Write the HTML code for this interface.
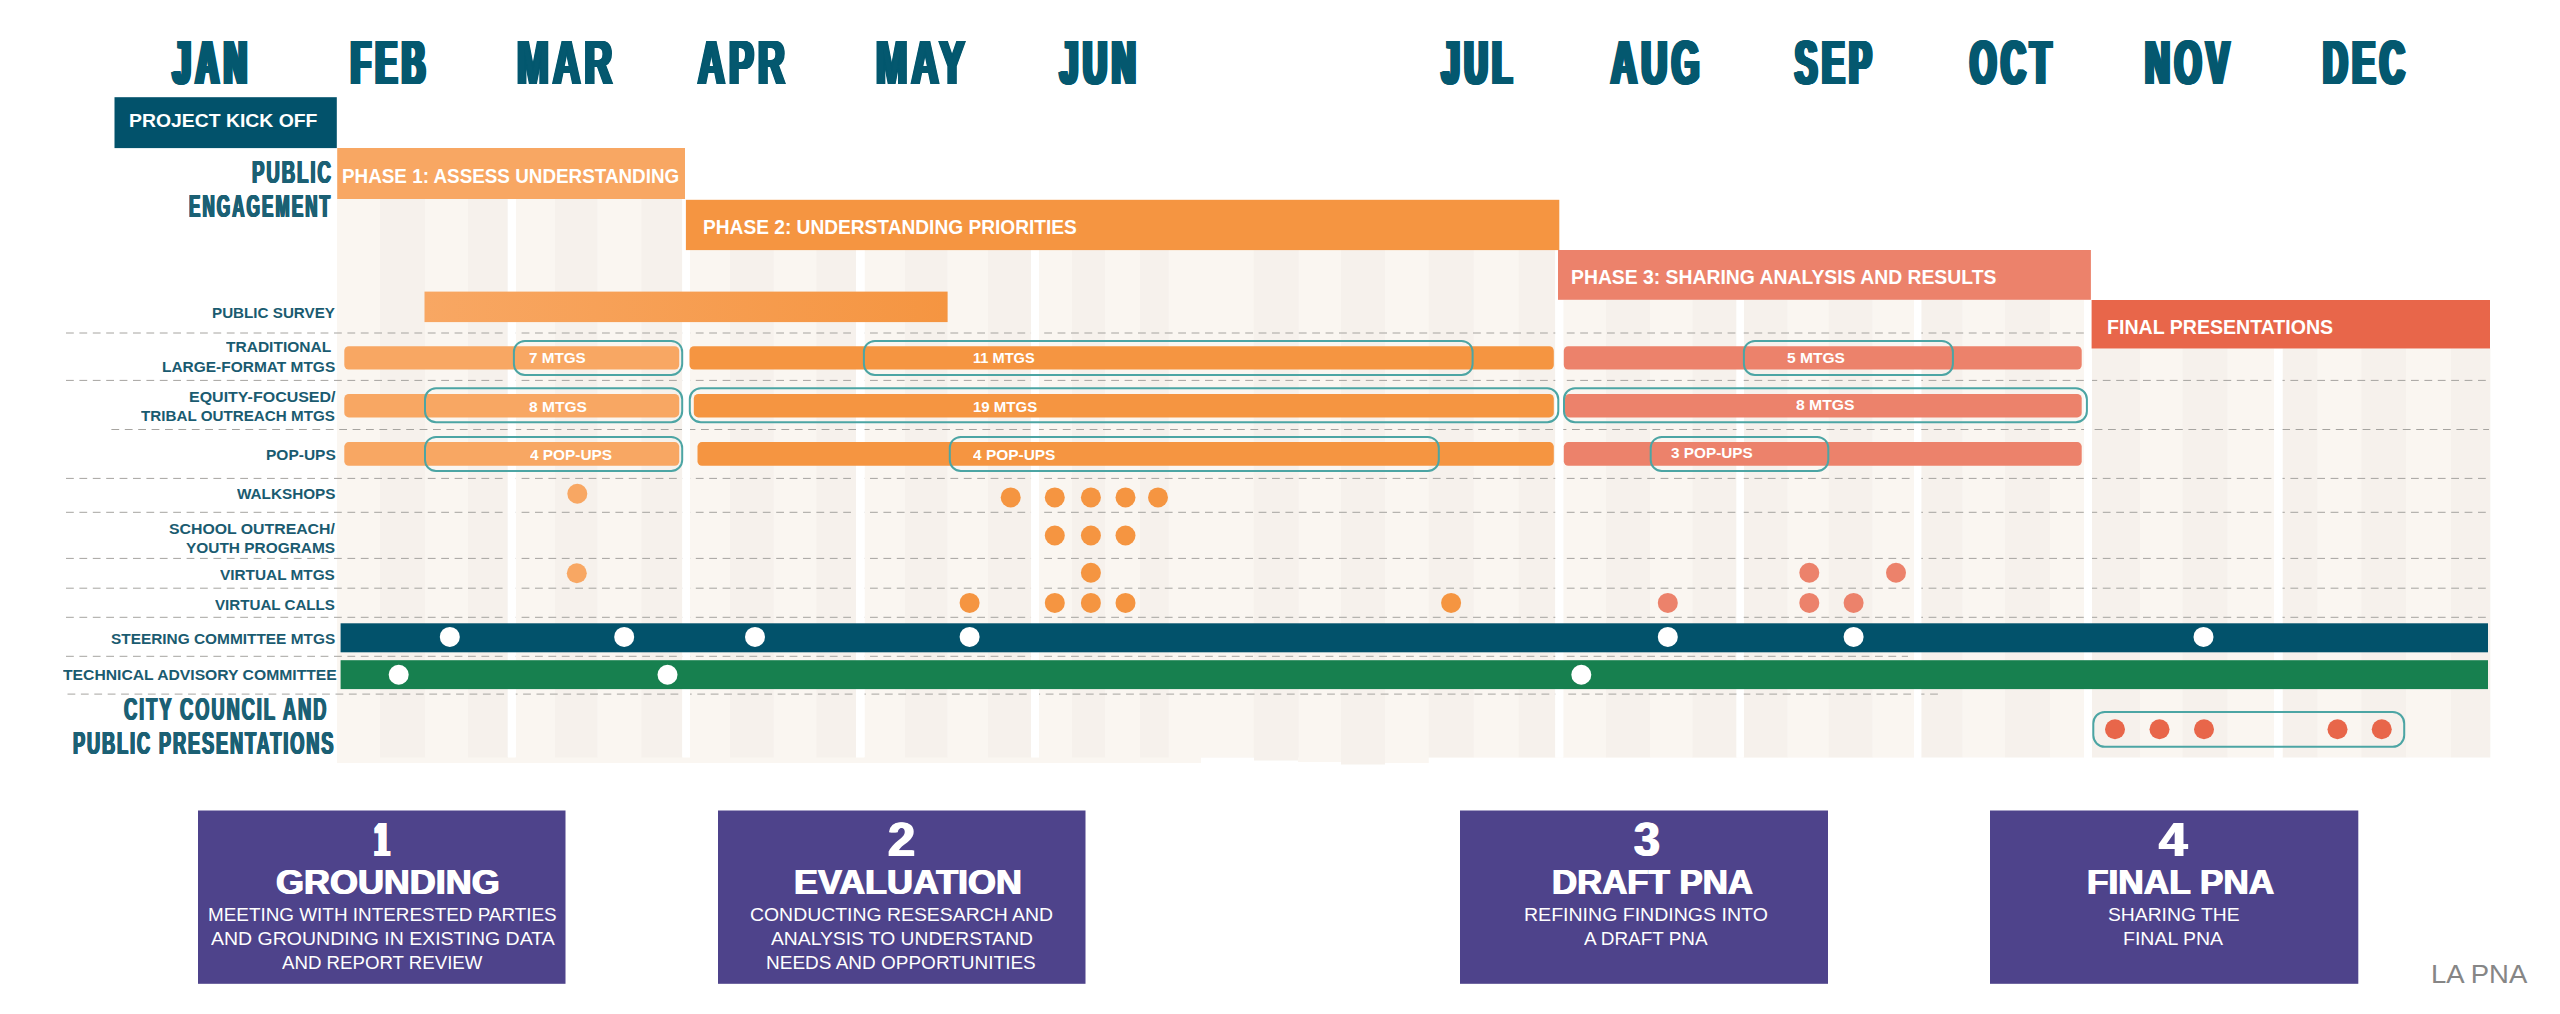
<!DOCTYPE html>
<html lang="en"><head><meta charset="utf-8"><title>LA PNA Project Timeline</title>
<style>
html,body{margin:0;padding:0;background:#fff}
#c{position:relative;width:2560px;height:1014px;overflow:hidden;background:#fff;font-family:"Liberation Sans",sans-serif}
#c svg{position:absolute;left:0;top:0}
.t{position:absolute;white-space:pre;line-height:1;font-weight:bold;transform-origin:0 0}
.t.r{font-weight:normal}
</style></head><body>
<div id="c">
<svg width="2560" height="1014" viewBox="0 0 2560 1014">
<rect x="337.00" y="757.00" width="864.00" height="6.00" fill="#faf6f1"/>
<rect x="1201.00" y="757.00" width="53.00" height="0.50" fill="#faf6f1"/>
<rect x="1254.00" y="757.00" width="44.00" height="3.50" fill="#f6f1ec"/>
<rect x="1298.00" y="757.00" width="43.00" height="5.00" fill="#faf6f1"/>
<rect x="1341.00" y="757.00" width="44.00" height="7.50" fill="#f6f1ec"/>
<rect x="1385.00" y="757.00" width="43.75" height="6.00" fill="#faf6f1"/>
<rect x="1428.75" y="757.00" width="485.00" height="0.30" fill="#faf6f1"/>
<rect x="337.00" y="199.00" width="43.30" height="558.50" fill="#faf6f1"/>
<rect x="380.00" y="199.00" width="45.30" height="558.50" fill="#f6f1ec"/>
<rect x="425.00" y="199.00" width="43.30" height="558.50" fill="#faf6f1"/>
<rect x="468.00" y="199.00" width="39.80" height="558.50" fill="#f6f1ec"/>
<rect x="515.75" y="199.00" width="39.55" height="558.50" fill="#faf6f1"/>
<rect x="555.00" y="199.00" width="42.80" height="558.50" fill="#f6f1ec"/>
<rect x="597.50" y="199.00" width="44.05" height="558.50" fill="#faf6f1"/>
<rect x="641.25" y="199.00" width="41.05" height="558.50" fill="#f6f1ec"/>
<rect x="690.00" y="250.00" width="40.30" height="507.50" fill="#faf6f1"/>
<rect x="730.00" y="250.00" width="44.05" height="507.50" fill="#f6f1ec"/>
<rect x="773.75" y="250.00" width="42.80" height="507.50" fill="#faf6f1"/>
<rect x="816.25" y="250.00" width="39.75" height="507.50" fill="#f6f1ec"/>
<rect x="864.50" y="250.00" width="40.80" height="507.50" fill="#faf6f1"/>
<rect x="905.00" y="250.00" width="42.80" height="507.50" fill="#f6f1ec"/>
<rect x="947.50" y="250.00" width="40.80" height="507.50" fill="#faf6f1"/>
<rect x="988.00" y="250.00" width="43.05" height="507.50" fill="#f6f1ec"/>
<rect x="1039.00" y="250.00" width="33.30" height="507.50" fill="#faf6f1"/>
<rect x="1072.00" y="250.00" width="33.30" height="507.50" fill="#f6f1ec"/>
<rect x="1105.00" y="250.00" width="35.30" height="507.50" fill="#faf6f1"/>
<rect x="1140.00" y="250.00" width="29.05" height="507.50" fill="#f6f1ec"/>
<rect x="1168.75" y="250.00" width="85.30" height="507.50" fill="#faf6f1"/>
<rect x="1253.75" y="250.00" width="45.30" height="507.50" fill="#f6f1ec"/>
<rect x="1298.75" y="250.00" width="42.55" height="507.50" fill="#faf6f1"/>
<rect x="1341.00" y="250.00" width="44.30" height="507.50" fill="#f6f1ec"/>
<rect x="1385.00" y="250.00" width="44.05" height="507.50" fill="#faf6f1"/>
<rect x="1428.75" y="250.00" width="45.30" height="507.50" fill="#f6f1ec"/>
<rect x="1473.75" y="250.00" width="45.30" height="507.50" fill="#faf6f1"/>
<rect x="1518.75" y="250.00" width="36.55" height="507.50" fill="#f6f1ec"/>
<rect x="1563.25" y="300.00" width="43.05" height="457.50" fill="#faf6f1"/>
<rect x="1606.00" y="300.00" width="44.30" height="457.50" fill="#f6f1ec"/>
<rect x="1650.00" y="300.00" width="42.80" height="457.50" fill="#faf6f1"/>
<rect x="1692.50" y="300.00" width="44.05" height="457.50" fill="#f6f1ec"/>
<rect x="1743.75" y="300.00" width="44.05" height="457.50" fill="#f6f1ec"/>
<rect x="1787.50" y="300.00" width="41.55" height="457.50" fill="#faf6f1"/>
<rect x="1828.75" y="300.00" width="44.05" height="457.50" fill="#f6f1ec"/>
<rect x="1872.50" y="300.00" width="41.55" height="457.50" fill="#faf6f1"/>
<rect x="1921.25" y="300.00" width="41.55" height="457.50" fill="#f6f1ec"/>
<rect x="1962.50" y="300.00" width="42.80" height="457.50" fill="#faf6f1"/>
<rect x="2005.00" y="300.00" width="45.30" height="457.50" fill="#f6f1ec"/>
<rect x="2050.00" y="300.00" width="34.05" height="457.50" fill="#faf6f1"/>
<rect x="2092.00" y="348.50" width="48.30" height="409.00" fill="#f6f1ec"/>
<rect x="2140.00" y="348.50" width="42.80" height="409.00" fill="#faf6f1"/>
<rect x="2182.50" y="348.50" width="45.30" height="409.00" fill="#f6f1ec"/>
<rect x="2227.50" y="348.50" width="46.55" height="409.00" fill="#faf6f1"/>
<rect x="2282.50" y="348.50" width="35.30" height="409.00" fill="#f6f1ec"/>
<rect x="2317.50" y="348.50" width="44.05" height="409.00" fill="#faf6f1"/>
<rect x="2361.25" y="348.50" width="45.05" height="409.00" fill="#f6f1ec"/>
<rect x="2406.00" y="348.50" width="45.30" height="409.00" fill="#faf6f1"/>
<rect x="2451.00" y="348.50" width="39.30" height="409.00" fill="#f6f1ec"/>
<line x1="66.00" y1="333.00" x2="2084.00" y2="333.00" stroke="#a6a4a0" stroke-width="1" stroke-dasharray="7.8 5.6"/>
<line x1="66.00" y1="380.40" x2="2489.00" y2="380.40" stroke="#a6a4a0" stroke-width="1" stroke-dasharray="7.8 5.6"/>
<line x1="111.40" y1="429.50" x2="2489.00" y2="429.50" stroke="#a6a4a0" stroke-width="1" stroke-dasharray="7.8 5.6"/>
<line x1="66.00" y1="478.40" x2="2489.00" y2="478.40" stroke="#a6a4a0" stroke-width="1" stroke-dasharray="7.8 5.6"/>
<line x1="66.00" y1="512.30" x2="2489.00" y2="512.30" stroke="#a6a4a0" stroke-width="1" stroke-dasharray="7.8 5.6"/>
<line x1="66.00" y1="558.40" x2="2489.00" y2="558.40" stroke="#a6a4a0" stroke-width="1" stroke-dasharray="7.8 5.6"/>
<line x1="66.00" y1="588.20" x2="2489.00" y2="588.20" stroke="#a6a4a0" stroke-width="1" stroke-dasharray="7.8 5.6"/>
<line x1="66.00" y1="617.30" x2="2489.00" y2="617.30" stroke="#a6a4a0" stroke-width="1" stroke-dasharray="7.8 5.6"/>
<line x1="66.00" y1="656.30" x2="1908.00" y2="656.30" stroke="#a6a4a0" stroke-width="1" stroke-dasharray="7.8 5.6"/>
<line x1="67.50" y1="694.10" x2="1940.00" y2="694.10" stroke="#a6a4a0" stroke-width="1" stroke-dasharray="7.8 5.6"/>
<rect x="507.80" y="199.00" width="7.95" height="558.50" fill="#fff"/>
<rect x="682.30" y="199.00" width="7.70" height="558.50" fill="#fff"/>
<rect x="856.00" y="250.00" width="8.50" height="507.50" fill="#fff"/>
<rect x="1031.05" y="250.00" width="7.95" height="507.50" fill="#fff"/>
<rect x="1555.30" y="250.00" width="7.95" height="507.50" fill="#fff"/>
<rect x="1736.55" y="300.00" width="7.20" height="457.50" fill="#fff"/>
<rect x="1914.05" y="300.00" width="7.20" height="457.50" fill="#fff"/>
<rect x="2084.05" y="300.00" width="7.95" height="457.50" fill="#fff"/>
<rect x="2274.05" y="348.50" width="8.45" height="409.00" fill="#fff"/>
<rect x="114.50" y="97.20" width="222.30" height="50.90" fill="#02526b"/>
<rect x="337.20" y="148.00" width="347.80" height="51.00" fill="#f8a763"/>
<rect x="685.90" y="199.80" width="873.40" height="50.30" fill="#f59541"/>
<rect x="1558.00" y="250.00" width="532.90" height="49.80" fill="#ec826b"/>
<rect x="2091.60" y="300.00" width="398.40" height="48.50" fill="#e8664a"/>
<defs><linearGradient id="gs" x1="0" x2="1" y1="0" y2="0"><stop offset="0" stop-color="#f8a763"/><stop offset="1" stop-color="#f59541"/></linearGradient></defs>
<rect x="424.50" y="291.60" width="523.10" height="30.50" fill="url(#gs)"/>
<rect x="344.30" y="346.20" width="334.90" height="23.40" fill="#f8a763" rx="4.5"/>
<rect x="344.30" y="394.00" width="334.90" height="23.40" fill="#f8a763" rx="4.5"/>
<rect x="344.30" y="442.10" width="334.90" height="23.70" fill="#f8a763" rx="4.5"/>
<rect x="689.50" y="346.20" width="864.30" height="23.40" fill="#f59541" rx="4.5"/>
<rect x="693.80" y="394.00" width="860.00" height="23.40" fill="#f59541" rx="4.5"/>
<rect x="697.50" y="442.10" width="856.30" height="23.70" fill="#f59541" rx="4.5"/>
<rect x="1563.80" y="346.20" width="517.90" height="23.40" fill="#ec826b" rx="4.5"/>
<rect x="1565.00" y="394.00" width="516.70" height="23.40" fill="#ec826b" rx="4.5"/>
<rect x="1563.80" y="442.10" width="517.90" height="23.70" fill="#ec826b" rx="4.5"/>
<rect x="513.90" y="340.90" width="168.30" height="34.00" rx="11.0" fill="none" stroke="#4ca5a4" stroke-width="2.0"/>
<rect x="863.90" y="340.90" width="608.70" height="34.00" rx="11.0" fill="none" stroke="#4ca5a4" stroke-width="2.0"/>
<rect x="1743.90" y="340.90" width="209.00" height="34.00" rx="11.0" fill="none" stroke="#4ca5a4" stroke-width="2.0"/>
<rect x="425.00" y="388.20" width="257.20" height="34.00" rx="11.0" fill="none" stroke="#4ca5a4" stroke-width="2.0"/>
<rect x="689.80" y="388.20" width="868.50" height="34.00" rx="11.0" fill="none" stroke="#4ca5a4" stroke-width="2.0"/>
<rect x="1564.00" y="388.20" width="522.90" height="34.00" rx="11.0" fill="none" stroke="#4ca5a4" stroke-width="2.0"/>
<rect x="425.00" y="436.90" width="257.20" height="34.10" rx="11.0" fill="none" stroke="#4ca5a4" stroke-width="2.0"/>
<rect x="949.80" y="436.90" width="489.00" height="34.10" rx="11.0" fill="none" stroke="#4ca5a4" stroke-width="2.0"/>
<rect x="1650.70" y="436.90" width="177.60" height="34.10" rx="11.0" fill="none" stroke="#4ca5a4" stroke-width="2.0"/>
<circle cx="577.30" cy="493.70" r="10" fill="#f8a763"/>
<circle cx="576.80" cy="573.30" r="10" fill="#f8a763"/>
<circle cx="1010.70" cy="497.40" r="10" fill="#f59541"/>
<circle cx="1054.80" cy="497.40" r="10" fill="#f59541"/>
<circle cx="1090.90" cy="497.40" r="10" fill="#f59541"/>
<circle cx="1125.50" cy="497.40" r="10" fill="#f59541"/>
<circle cx="1158.00" cy="497.40" r="10" fill="#f59541"/>
<circle cx="1054.80" cy="535.50" r="10" fill="#f59541"/>
<circle cx="1090.90" cy="535.50" r="10" fill="#f59541"/>
<circle cx="1125.50" cy="535.50" r="10" fill="#f59541"/>
<circle cx="1090.90" cy="572.80" r="10" fill="#f59541"/>
<circle cx="969.60" cy="602.90" r="10" fill="#f59541"/>
<circle cx="1054.80" cy="602.90" r="10" fill="#f59541"/>
<circle cx="1090.90" cy="602.90" r="10" fill="#f59541"/>
<circle cx="1125.50" cy="602.90" r="10" fill="#f59541"/>
<circle cx="1451.10" cy="602.90" r="10" fill="#f59541"/>
<circle cx="1809.30" cy="572.80" r="10" fill="#ec826b"/>
<circle cx="1896.00" cy="572.80" r="10" fill="#ec826b"/>
<circle cx="1667.80" cy="602.90" r="10" fill="#ec826b"/>
<circle cx="1809.30" cy="602.90" r="10" fill="#ec826b"/>
<circle cx="1853.60" cy="602.90" r="10" fill="#ec826b"/>
<rect x="340.60" y="623.30" width="2147.40" height="29.00" fill="#02526b"/>
<rect x="340.60" y="660.20" width="2147.40" height="28.90" fill="#17804f"/>
<circle cx="449.80" cy="636.90" r="10" fill="#fff"/>
<circle cx="624.20" cy="636.90" r="10" fill="#fff"/>
<circle cx="755.00" cy="636.90" r="10" fill="#fff"/>
<circle cx="969.60" cy="636.90" r="10" fill="#fff"/>
<circle cx="1667.80" cy="636.90" r="10" fill="#fff"/>
<circle cx="1853.60" cy="636.90" r="10" fill="#fff"/>
<circle cx="2203.50" cy="636.90" r="10" fill="#fff"/>
<circle cx="398.70" cy="674.80" r="10" fill="#fff"/>
<circle cx="667.50" cy="674.80" r="10" fill="#fff"/>
<circle cx="1581.30" cy="674.80" r="10" fill="#fff"/>
<rect x="2093.30" y="711.90" width="310.90" height="34.90" rx="11.5" fill="none" stroke="#4ca5a4" stroke-width="2.0"/>
<circle cx="2115.00" cy="729.30" r="10" fill="#e8664a"/>
<circle cx="2159.50" cy="729.30" r="10" fill="#e8664a"/>
<circle cx="2204.00" cy="729.30" r="10" fill="#e8664a"/>
<circle cx="2337.50" cy="729.30" r="10" fill="#e8664a"/>
<circle cx="2381.75" cy="729.30" r="10" fill="#e8664a"/>
<rect x="198.00" y="810.50" width="367.50" height="173.30" fill="#4e438b"/>
<rect x="718.00" y="810.50" width="367.50" height="173.30" fill="#4e438b"/>
<rect x="1460.00" y="810.50" width="368.00" height="173.30" fill="#4e438b"/>
<rect x="1990.00" y="810.50" width="368.30" height="173.30" fill="#4e438b"/>
</svg>
<span class="t" style="left:172.64px;top:30.90px;font-size:62.57px;color:#04586f;transform:scaleX(0.5087);letter-spacing:10.04px;text-shadow:0.80px 0 0 #04586f,-0.80px 0 0 #04586f,1.61px 0 0 #04586f,-1.61px 0 0 #04586f,2.41px 0 0 #04586f,-2.41px 0 0 #04586f,3.22px 0 0 #04586f,-3.22px 0 0 #04586f,4.02px 0 0 #04586f,-4.02px 0 0 #04586f,4.82px 0 0 #04586f,-4.82px 0 0 #04586f;">JAN</span>
<span class="t" style="left:350.52px;top:30.90px;font-size:62.57px;color:#04586f;transform:scaleX(0.5112);letter-spacing:9.94px;text-shadow:0.80px 0 0 #04586f,-0.80px 0 0 #04586f,1.59px 0 0 #04586f,-1.59px 0 0 #04586f,2.39px 0 0 #04586f,-2.39px 0 0 #04586f,3.18px 0 0 #04586f,-3.18px 0 0 #04586f,3.98px 0 0 #04586f,-3.98px 0 0 #04586f,4.78px 0 0 #04586f,-4.78px 0 0 #04586f;">FEB</span>
<span class="t" style="left:516.66px;top:30.90px;font-size:62.57px;color:#04586f;transform:scaleX(0.6100);letter-spacing:6.71px;text-shadow:0.80px 0 0 #04586f,-0.80px 0 0 #04586f,1.60px 0 0 #04586f,-1.60px 0 0 #04586f,2.39px 0 0 #04586f,-2.39px 0 0 #04586f,3.19px 0 0 #04586f,-3.19px 0 0 #04586f;">MAR</span>
<span class="t" style="left:698.30px;top:30.90px;font-size:62.57px;color:#04586f;transform:scaleX(0.5916);letter-spacing:7.23px;text-shadow:0.86px 0 0 #04586f,-0.86px 0 0 #04586f,1.72px 0 0 #04586f,-1.72px 0 0 #04586f,2.58px 0 0 #04586f,-2.58px 0 0 #04586f,3.45px 0 0 #04586f,-3.45px 0 0 #04586f;">APR</span>
<span class="t" style="left:875.98px;top:30.90px;font-size:62.57px;color:#04586f;transform:scaleX(0.6016);letter-spacing:6.94px;text-shadow:0.83px 0 0 #04586f,-0.83px 0 0 #04586f,1.65px 0 0 #04586f,-1.65px 0 0 #04586f,2.48px 0 0 #04586f,-2.48px 0 0 #04586f,3.31px 0 0 #04586f,-3.31px 0 0 #04586f;">MAY</span>
<span class="t" style="left:1059.54px;top:30.90px;font-size:62.57px;color:#04586f;transform:scaleX(0.5253);letter-spacing:9.41px;text-shadow:0.75px 0 0 #04586f,-0.75px 0 0 #04586f,1.50px 0 0 #04586f,-1.50px 0 0 #04586f,2.26px 0 0 #04586f,-2.26px 0 0 #04586f,3.01px 0 0 #04586f,-3.01px 0 0 #04586f,3.76px 0 0 #04586f,-3.76px 0 0 #04586f,4.51px 0 0 #04586f,-4.51px 0 0 #04586f;">JUN</span>
<span class="t" style="left:1442.17px;top:30.90px;font-size:62.57px;color:#04586f;transform:scaleX(0.5027);letter-spacing:10.28px;text-shadow:0.82px 0 0 #04586f,-0.82px 0 0 #04586f,1.65px 0 0 #04586f,-1.65px 0 0 #04586f,2.47px 0 0 #04586f,-2.47px 0 0 #04586f,3.29px 0 0 #04586f,-3.29px 0 0 #04586f,4.12px 0 0 #04586f,-4.12px 0 0 #04586f,4.94px 0 0 #04586f,-4.94px 0 0 #04586f;">JUL</span>
<span class="t" style="left:1610.92px;top:30.90px;font-size:62.57px;color:#04586f;transform:scaleX(0.5723);letter-spacing:7.81px;text-shadow:0.75px 0 0 #04586f,-0.75px 0 0 #04586f,1.49px 0 0 #04586f,-1.49px 0 0 #04586f,2.24px 0 0 #04586f,-2.24px 0 0 #04586f,2.98px 0 0 #04586f,-2.98px 0 0 #04586f,3.73px 0 0 #04586f,-3.73px 0 0 #04586f;">AUG</span>
<span class="t" style="left:1794.67px;top:30.90px;font-size:62.57px;color:#04586f;transform:scaleX(0.5324);letter-spacing:9.15px;text-shadow:0.88px 0 0 #04586f,-0.88px 0 0 #04586f,1.75px 0 0 #04586f,-1.75px 0 0 #04586f,2.63px 0 0 #04586f,-2.63px 0 0 #04586f,3.51px 0 0 #04586f,-3.51px 0 0 #04586f,4.39px 0 0 #04586f,-4.39px 0 0 #04586f;">SEP</span>
<span class="t" style="left:1969.69px;top:30.90px;font-size:62.57px;color:#04586f;transform:scaleX(0.5413);letter-spacing:8.83px;text-shadow:0.85px 0 0 #04586f,-0.85px 0 0 #04586f,1.69px 0 0 #04586f,-1.69px 0 0 #04586f,2.54px 0 0 #04586f,-2.54px 0 0 #04586f,3.39px 0 0 #04586f,-3.39px 0 0 #04586f,4.23px 0 0 #04586f,-4.23px 0 0 #04586f;">OCT</span>
<span class="t" style="left:2144.66px;top:30.90px;font-size:62.57px;color:#04586f;transform:scaleX(0.5525);letter-spacing:8.45px;text-shadow:0.81px 0 0 #04586f,-0.81px 0 0 #04586f,1.62px 0 0 #04586f,-1.62px 0 0 #04586f,2.43px 0 0 #04586f,-2.43px 0 0 #04586f,3.24px 0 0 #04586f,-3.24px 0 0 #04586f,4.04px 0 0 #04586f,-4.04px 0 0 #04586f;">NOV</span>
<span class="t" style="left:2322.72px;top:30.90px;font-size:62.57px;color:#04586f;transform:scaleX(0.5452);letter-spacing:8.70px;text-shadow:0.83px 0 0 #04586f,-0.83px 0 0 #04586f,1.67px 0 0 #04586f,-1.67px 0 0 #04586f,2.50px 0 0 #04586f,-2.50px 0 0 #04586f,3.33px 0 0 #04586f,-3.33px 0 0 #04586f,4.16px 0 0 #04586f,-4.16px 0 0 #04586f;">DEC</span>
<span class="t" style="left:128.84px;top:111.20px;font-size:19.0px;color:#fff;transform:scaleX(1.0202);">PROJECT KICK OFF</span>
<span class="t" style="left:251.69px;top:156.90px;font-size:31.71px;color:#1b6074;transform:scaleX(0.5872);letter-spacing:3.27px;text-shadow:0.60px 0 0 #1b6074,-0.60px 0 0 #1b6074,1.21px 0 0 #1b6074,-1.21px 0 0 #1b6074;">PUBLIC</span>
<span class="t" style="left:189.03px;top:190.60px;font-size:31.71px;color:#1b6074;transform:scaleX(0.5338);letter-spacing:4.11px;text-shadow:0.79px 0 0 #1b6074,-0.79px 0 0 #1b6074,1.58px 0 0 #1b6074,-1.58px 0 0 #1b6074;">ENGAGEMENT</span>
<span class="t" style="left:342.37px;top:165.80px;font-size:20.0px;color:#fff;transform:scaleX(0.9424);">PHASE 1: ASSESS UNDERSTANDING</span>
<span class="t" style="left:702.65px;top:217.30px;font-size:20.0px;color:#fff;transform:scaleX(0.9567);">PHASE 2: UNDERSTANDING PRIORITIES</span>
<span class="t" style="left:1571.14px;top:267.40px;font-size:20.0px;color:#fff;transform:scaleX(0.9674);">PHASE 3: SHARING ANALYSIS AND RESULTS</span>
<span class="t" style="left:2106.83px;top:316.60px;font-size:20.0px;color:#fff;transform:scaleX(0.9785);">FINAL PRESENTATIONS</span>
<span class="t" style="left:211.89px;top:305.30px;font-size:15.43px;color:#1a5b70;transform:scaleX(0.9850);">PUBLIC SURVEY</span>
<span class="t" style="left:226.34px;top:339.20px;font-size:15.43px;color:#1a5b70;transform:scaleX(1.0068);">TRADITIONAL</span>
<span class="t" style="left:162.27px;top:358.80px;font-size:15.43px;color:#1a5b70;transform:scaleX(1.0026);">LARGE-FORMAT MTGS</span>
<span class="t" style="left:188.54px;top:388.50px;font-size:15.43px;color:#1a5b70;transform:scaleX(1.0363);">EQUITY-FOCUSED/</span>
<span class="t" style="left:141.25px;top:407.80px;font-size:15.43px;color:#1a5b70;transform:scaleX(0.9856);">TRIBAL OUTREACH MTGS</span>
<span class="t" style="left:265.77px;top:446.90px;font-size:15.43px;color:#1a5b70;transform:scaleX(1.0051);">POP-UPS</span>
<span class="t" style="left:237.00px;top:486.00px;font-size:15.43px;color:#1a5b70;transform:scaleX(0.9912);">WALKSHOPS</span>
<span class="t" style="left:169.48px;top:520.60px;font-size:15.43px;color:#1a5b70;transform:scaleX(1.0261);">SCHOOL OUTREACH/</span>
<span class="t" style="left:186.35px;top:539.90px;font-size:15.43px;color:#1a5b70;transform:scaleX(1.0004);">YOUTH PROGRAMS</span>
<span class="t" style="left:220.40px;top:567.20px;font-size:15.43px;color:#1a5b70;transform:scaleX(0.9953);">VIRTUAL MTGS</span>
<span class="t" style="left:214.60px;top:596.70px;font-size:15.43px;color:#1a5b70;transform:scaleX(0.9811);">VIRTUAL CALLS</span>
<span class="t" style="left:111.09px;top:630.50px;font-size:15.43px;color:#1a5b70;transform:scaleX(0.9986);">STEERING COMMITTEE MTGS</span>
<span class="t" style="left:62.84px;top:666.90px;font-size:15.43px;color:#1a5b70;transform:scaleX(1.0175);">TECHNICAL ADVISORY COMMITTEE</span>
<span class="t" style="left:123.94px;top:694.30px;font-size:31.71px;color:#1b6074;transform:scaleX(0.5812);letter-spacing:3.18px;text-shadow:1.16px 0 0 #1b6074,-1.16px 0 0 #1b6074;">CITY COUNCIL AND</span>
<span class="t" style="left:73.41px;top:728.00px;font-size:31.71px;color:#1b6074;transform:scaleX(0.5732);letter-spacing:3.30px;text-shadow:0.61px 0 0 #1b6074,-0.61px 0 0 #1b6074,1.21px 0 0 #1b6074,-1.21px 0 0 #1b6074;">PUBLIC PRESENTATIONS</span>
<span class="t" style="left:529.09px;top:350.20px;font-size:15.0px;color:#fff;transform:scaleX(1.0167);">7 MTGS</span>
<span class="t" style="left:529.23px;top:399.30px;font-size:15.0px;color:#fff;transform:scaleX(1.0377);">8 MTGS</span>
<span class="t" style="left:529.55px;top:446.80px;font-size:15.0px;color:#fff;transform:scaleX(1.0262);">4 POP-UPS</span>
<span class="t" style="left:973.42px;top:350.30px;font-size:15.0px;color:#fff;transform:scaleX(0.9725);">11 MTGS</span>
<span class="t" style="left:973.40px;top:399.20px;font-size:15.0px;color:#fff;transform:scaleX(0.9996);">19 MTGS</span>
<span class="t" style="left:972.95px;top:446.60px;font-size:15.0px;color:#fff;transform:scaleX(1.0300);">4 POP-UPS</span>
<span class="t" style="left:1786.73px;top:350.30px;font-size:15.0px;color:#fff;transform:scaleX(1.0358);">5 MTGS</span>
<span class="t" style="left:1796.03px;top:397.40px;font-size:15.0px;color:#fff;transform:scaleX(1.0486);">8 MTGS</span>
<span class="t" style="left:1671.19px;top:445.00px;font-size:15.0px;color:#fff;transform:scaleX(1.0219);">3 POP-UPS</span>
<span class="t" style="left:375.35px;top:815.50px;font-size:47.43px;color:#fff;transform:scaleX(0.5203);letter-spacing:8.94px;text-shadow:0.75px 0 0 #fff,-0.75px 0 0 #fff,1.49px 0 0 #fff,-1.49px 0 0 #fff,2.24px 0 0 #fff,-2.24px 0 0 #fff,2.98px 0 0 #fff,-2.98px 0 0 #fff,3.73px 0 0 #fff,-3.73px 0 0 #fff,4.47px 0 0 #fff,-4.47px 0 0 #fff;">1</span>
<span class="t" style="left:888.21px;top:815.50px;font-size:47.43px;color:#fff;transform:scaleX(1.0283);text-shadow:0.90px 0 0 #fff,-0.90px 0 0 #fff;">2</span>
<span class="t" style="left:1633.70px;top:815.50px;font-size:47.43px;color:#fff;transform:scaleX(0.9798);text-shadow:0.90px 0 0 #fff,-0.90px 0 0 #fff;">3</span>
<span class="t" style="left:2159.21px;top:815.50px;font-size:47.43px;color:#fff;transform:scaleX(1.0758);text-shadow:0.90px 0 0 #fff,-0.90px 0 0 #fff;">4</span>
<span class="t" style="left:275.55px;top:865.00px;font-size:34.29px;color:#fff;transform:scaleX(1.0489);text-shadow:0.70px 0 0 #fff,-0.70px 0 0 #fff;">GROUNDING</span>
<span class="t" style="left:794.33px;top:865.00px;font-size:34.29px;color:#fff;transform:scaleX(1.0465);text-shadow:0.70px 0 0 #fff,-0.70px 0 0 #fff;">EVALUATION</span>
<span class="t" style="left:1551.62px;top:865.00px;font-size:34.29px;color:#fff;transform:scaleX(1.0143);text-shadow:0.70px 0 0 #fff,-0.70px 0 0 #fff;">DRAFT PNA</span>
<span class="t" style="left:2086.60px;top:865.00px;font-size:34.29px;color:#fff;transform:scaleX(1.0278);text-shadow:0.70px 0 0 #fff,-0.70px 0 0 #fff;">FINAL PNA</span>
<span class="t r" style="left:207.99px;top:905.25px;font-size:19.2px;color:#fff;transform:scaleX(0.9843);">MEETING WITH INTERESTED PARTIES</span>
<span class="t r" style="left:210.50px;top:929.00px;font-size:19.2px;color:#fff;transform:scaleX(1.0160);">AND GROUNDING IN EXISTING DATA</span>
<span class="t r" style="left:282.00px;top:953.25px;font-size:19.2px;color:#fff;transform:scaleX(0.9723);">AND REPORT REVIEW</span>
<span class="t r" style="left:749.53px;top:905.25px;font-size:19.2px;color:#fff;transform:scaleX(1.0115);">CONDUCTING RESESARCH AND</span>
<span class="t r" style="left:770.75px;top:929.00px;font-size:19.2px;color:#fff;transform:scaleX(1.0045);">ANALYSIS TO UNDERSTAND</span>
<span class="t r" style="left:765.98px;top:953.25px;font-size:19.2px;color:#fff;transform:scaleX(0.9896);">NEEDS AND OPPORTUNITIES</span>
<span class="t r" style="left:1523.94px;top:905.25px;font-size:19.2px;color:#fff;transform:scaleX(1.0181);">REFINING FINDINGS INTO</span>
<span class="t r" style="left:1583.75px;top:929.00px;font-size:19.2px;color:#fff;transform:scaleX(0.9842);">A DRAFT PNA</span>
<span class="t r" style="left:2107.98px;top:905.25px;font-size:19.2px;color:#fff;transform:scaleX(1.0059);">SHARING THE</span>
<span class="t r" style="left:2123.44px;top:929.00px;font-size:19.2px;color:#fff;transform:scaleX(1.0154);">FINAL PNA</span>
<span class="t r" style="left:2430.80px;top:961.20px;font-size:26.38px;color:#868686;transform:scaleX(1.0430);">LA PNA</span>
</div>
</body></html>
